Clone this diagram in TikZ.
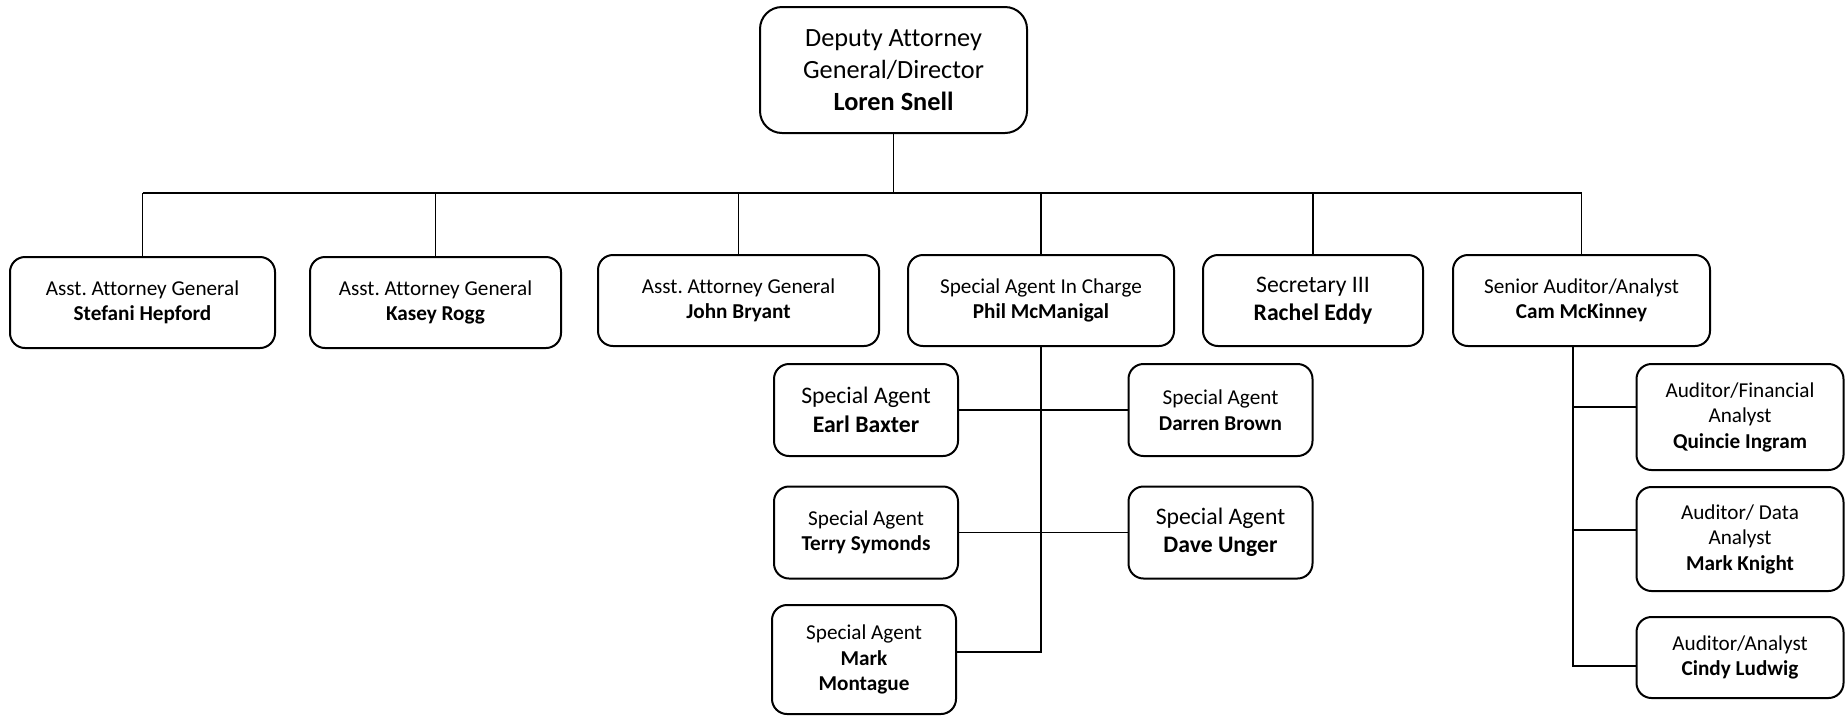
\documentclass[tikz,border=0pt]{standalone}
\usepackage{fontspec}
\setmainfont{Carlito}[Ligatures=NoCommon]
\frenchspacing
\newcommand{\topsize}{\fontsize{26.3}{32}\selectfont}
\newcommand{\bigsize}{\fontsize{23.7}{28.5}\selectfont}
\newcommand{\smallsize}{\fontsize{21.2}{25.5}\selectfont}
\tikzset{
  orgbox/.style={draw,line width=2pt,rounded corners=15pt,align=center,inner sep=0pt,minimum height=91pt,font=\smallsize},
  agentbox/.style={orgbox,minimum width=184pt,minimum height=92pt},
  auditbox/.style={orgbox,minimum width=207pt},
  bigtext/.style={font=\bigsize},
  link/.style={line width=1.8pt},
}

\begin{document}
\begin{tikzpicture}[x=1pt,y=-1pt]
  \useasboundingbox (0,0) rectangle (1848,716);

  % Director
  \node[orgbox,rounded corners=22pt,minimum width=267pt,minimum height=126pt,font=\topsize] (dag) at (893.5,70) {Deputy Attorney\\General/Director\\\textbf{Loren Snell}};

  % First row
  \node[orgbox,minimum width=265pt] (aag1) at (142.5,302.5) {Asst. Attorney General\\\textbf{Stefani Hepford}};
  \node[orgbox,minimum width=251pt] (aag2) at (435.5,302.5) {Asst. Attorney General\\\textbf{Kasey Rogg}};
  \node[orgbox,minimum width=281pt] (aag3) at (738.5,300.5) {Asst. Attorney General\\\textbf{John Bryant}};
  \node[orgbox,minimum width=266pt] (sac) at (1041,300.5) {Special Agent In Charge\\\textbf{Phil McManigal}};
  \node[orgbox,bigtext,minimum width=220pt] (sec) at (1313,300.5) {Secretary III\\\textbf{Rachel Eddy}};
  \node[orgbox,minimum width=257pt] (sra) at (1581.5,300.5) {Senior Auditor/Analyst\\\textbf{Cam McKinney}};

  % Special agents
  \node[agentbox,bigtext] (eb) at (866,410) {Special Agent\\\textbf{Earl Baxter}};
  \node[agentbox] (db) at (1220.5,410) {Special Agent\\\textbf{Darren Brown}};
  \node[agentbox] (ts) at (866,532.5) {Special Agent\\\textbf{Terry Symonds}};
  \node[agentbox,bigtext] (du) at (1220.5,532.5) {Special Agent\\\textbf{Dave Unger}};
  \node[agentbox,minimum height=109pt] (mm) at (864,659.5) {Special Agent\\\textbf{Mark}\\\textbf{Montague}};

  % Auditors
  \node[auditbox,minimum height=106pt] (qi) at (1740,417) {Auditor/Financial\\Analyst\\\textbf{Quincie Ingram}};
  \node[auditbox,minimum height=104pt] (mk) at (1740,539) {Auditor/ Data\\Analyst\\\textbf{Mark Knight}};
  \node[auditbox,minimum height=81pt] (cl) at (1740,657.5) {Auditor/Analyst\\\textbf{Cindy Ludwig}};

  % Connectors
  \coordinate (bus) at (893.5,193);
  \draw[link] (dag.south) -- (bus);
  \draw[link] (aag1.north |- bus) -- (sra.north |- bus);
  \foreach \b in {aag1,aag2,aag3,sac,sec,sra}
    \draw[link] (\b.north) -- (\b.north |- bus);

  \coordinate (saend) at (1041,652);
  \draw[link] (sac.south) -- (saend) -- (saend -| mm.east);
  \draw[link] (eb.east) -- (db.west);
  \draw[link] (ts.east) -- (du.west);

  \coordinate (audend) at (1573,666);
  \draw[link] (sra.south -| audend) -- (audend) -- (audend -| cl.west);
  \draw[link] ([yshift=10pt]qi.west) -- ([yshift=10pt]qi.west -| audend);
  \draw[link] ([yshift=9pt]mk.west) -- ([yshift=9pt]mk.west -| audend);
\end{tikzpicture}
\end{document}
